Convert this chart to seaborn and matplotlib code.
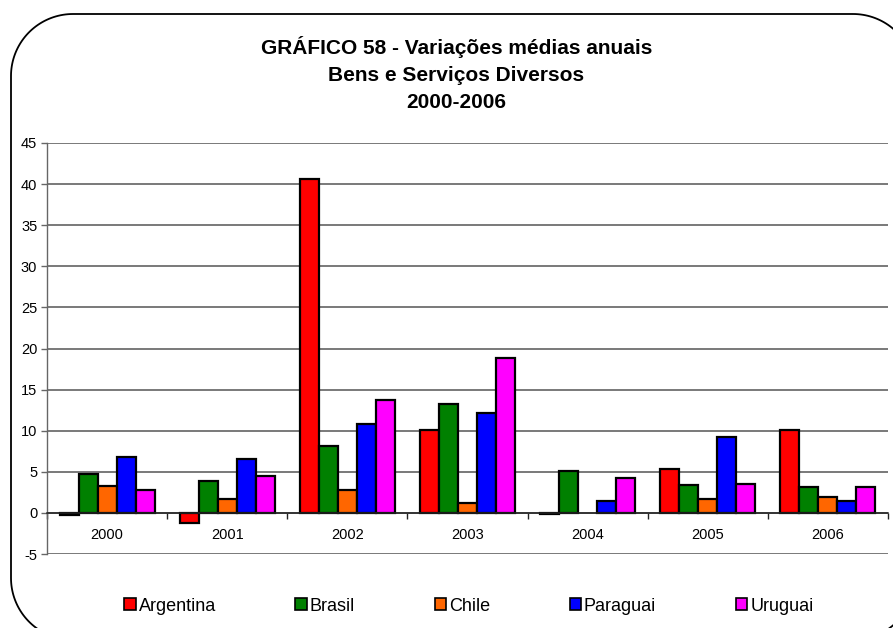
import numpy as np
import pandas as pd
import matplotlib
matplotlib.use('Agg')
import matplotlib.pyplot as plt
from matplotlib.patches import Patch, Polygon
import seaborn as sns

years = ['2000', '2001', '2002', '2003', '2004', '2005', '2006']
countries = ['Argentina', 'Brasil', 'Chile', 'Paraguai', 'Uruguai']
argentina = [-0.3, -1.2, 40.6, 10.1, -0.15, 5.4, 10.1]
brasil = [4.7, 3.9, 8.1, 13.2, 5.1, 3.4, 3.1]
chile = [3.3, 1.7, 2.8, 1.2, np.nan, 1.7, 1.9]
paraguai = [6.8, 6.6, 10.8, 12.2, 1.5, 9.2, 1.5]
uruguai = [2.8, 4.5, 13.7, 18.8, 4.3, 3.5, 3.2]
colors = ['#FF0000', '#008000', '#FF6600', '#0000FF', '#FF00FF']

series = [argentina, brasil, chile, paraguai, uruguai]
df = pd.DataFrame({
    'ano': years * len(countries),
    'pais': [c for c in countries for _ in years],
    'valor': [v for s in series for v in s],
})

sns.set_style('white')
plt.rcParams['font.family'] = ['Liberation Sans', 'DejaVu Sans']
plt.rcParams['text.color'] = 'black'
plt.rcParams['xtick.color'] = 'black'
plt.rcParams['ytick.color'] = 'black'
plt.rcParams['axes.unicode_minus'] = False
plt.rcParams['savefig.bbox'] = 'standard'

W, H = 893, 628
fig = plt.figure(figsize=(W / 100, H / 100), dpi=100)
ax = fig.add_axes([0.0526, 0.1178, 0.9418, 0.6545])

sns.barplot(data=df, x='ano', y='valor', hue='pais', palette=colors,
            width=0.79, gap=0, edgecolor='black', linewidth=1.6,
            saturation=1, legend=False, ax=ax, zorder=3)

ax.set_ylim(-5, 45)
ax.set_yticks(range(-5, 46, 5))
ax.set_xlim(-0.5, 6.5)
ax.set_xlabel('')
ax.set_ylabel('')
ax.yaxis.grid(True, color='#555555', linewidth=1.1, zorder=0)

for side in ['top', 'right']:
    ax.spines[side].set_visible(False)
ax.spines['left'].set_color('#666666')
ax.spines['left'].set_linewidth(1.0)
ax.spines['bottom'].set_position(('data', 0))
ax.spines['bottom'].set_color('#222222')
ax.spines['bottom'].set_linewidth(1.1)
ax.spines['bottom'].set_zorder(4)

ax.tick_params(axis='y', direction='out', length=4, width=1, color='#666666',
               labelsize=10.5, pad=3, left=True)
ax.tick_params(axis='x', which='major', length=0, labelsize=10.5, pad=11, bottom=True)
ax.set_xticks(np.arange(-0.5, 7, 1), minor=True)
ax.tick_params(axis='x', which='minor', direction='out', length=4, width=1,
               color='#222222', bottom=True)

fig.text(0.511, 0.943, 'GRÁFICO 58 - Variações médias anuais\nBens e Serviços Diversos\n2000-2006',
         ha='center', va='top', fontsize=15, fontweight='bold', linespacing=1.53)

handles = [Patch(facecolor=c, edgecolor='black', linewidth=1.2) for c in colors]
fig.legend(handles, countries, loc='center', bbox_to_anchor=(0.525, 0.035), ncol=5,
           frameon=False, fontsize=13, handlelength=0.65, handleheight=0.65,
           handletextpad=0.15, columnspacing=4.4)

# rounded chart border (pixel coords, y downwards), right and bottom sides off the canvas
left, top, right, bottom, r = 11, 14, 915, 640, 62
pts = []
for cx, cy, a0 in [(right - r, top + r, -90), (right - r, bottom - r, 0),
                   (left + r, bottom - r, 90), (left + r, top + r, 180)]:
    a = np.radians(np.linspace(a0, a0 + 90, 40))
    pts += [(cx + r * np.cos(t), cy + r * np.sin(t)) for t in a]
pts = [(x / W, 1 - y / H) for x, y in pts]
border = Polygon(pts, closed=True, facecolor='none', edgecolor='black',
                 linewidth=1.3, transform=fig.transFigure, figure=fig)
border.set_in_layout(False)
fig.patches.append(border)

fig.savefig('out.png', dpi=100)
